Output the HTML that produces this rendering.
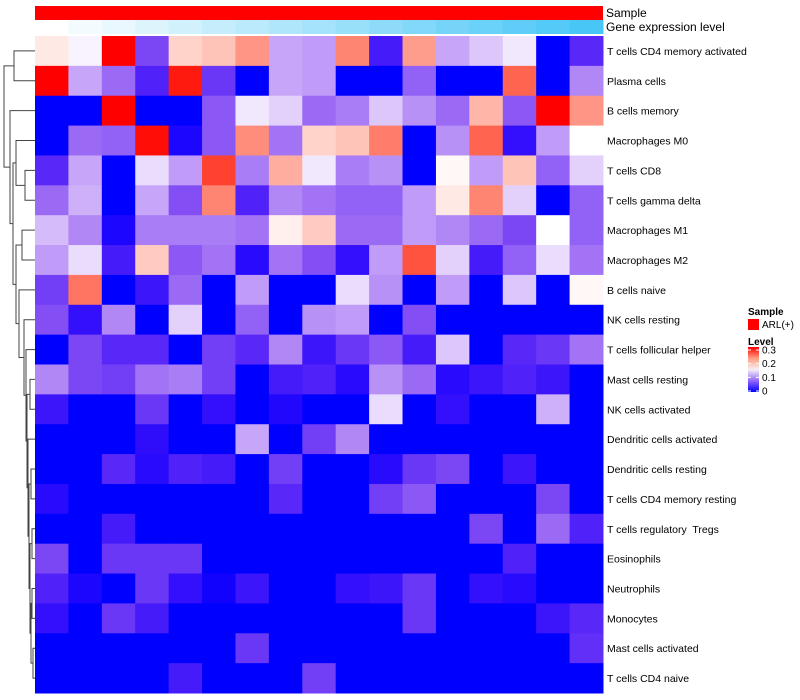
<!DOCTYPE html>
<html><head><meta charset="utf-8">
<style>
html,body{margin:0;padding:0;background:#fff;}
svg{display:block;font-family:"Liberation Sans",sans-serif;}
svg text{white-space:pre;}
</style></head>
<body>
<svg id="chart" width="800" height="700"></svg>
<script>
const rowLabels=["T cells CD4 memory activated","Plasma cells","B cells memory","Macrophages M0","T cells CD8","T cells gamma delta","Macrophages M1","Macrophages M2","B cells naive","NK cells resting","T cells follicular helper","Mast cells resting","NK cells activated","Dendritic cells activated","Dendritic cells resting","T cells CD4 memory resting","T cells regulatory  Tregs","Eosinophils","Neutrophils","Monocytes","Mast cells activated","T cells CD4 naive"];
const geneLevel=[0,1,2,3,4,5,6,7,8,9,10,11,12,13,14,15,16];
const r0=[0.165,0.145,0.3,0.06,0.18,0.19,0.22,0.11,0.105,0.23,0.03,0.215,0.11,0.125,0.14,0,0.04];
const r1=[0.3,0.11,0.08,0.035,0.29,0.05,0,0.11,0.105,0,0,0.075,0,0,0.25,0,0.095];
const r2=[0,0,0.3,0,0,0.07,0.14,0.13,0.08,0.09,0.125,0.1,0.08,0.2,0.07,0.3,0.22];
const r3=[0,0.08,0.075,0.295,0.01,0.07,0.225,0.085,0.18,0.19,0.235,0,0.1,0.25,0.02,0.105,0.15];
const r4=[0.04,0.11,0,0.135,0.105,0.27,0.09,0.205,0.14,0.09,0.1,0,0.155,0.105,0.19,0.075,0.13];
const r5=[0.08,0.115,0,0.11,0.065,0.23,0.035,0.095,0.085,0.075,0.075,0.105,0.165,0.23,0.13,0,0.075];
const r6=[0.12,0.095,0.01,0.09,0.09,0.09,0.085,0.16,0.185,0.08,0.08,0.105,0.095,0.08,0.06,0.15,0.075];
const r7=[0.105,0.135,0.03,0.185,0.07,0.085,0.015,0.085,0.065,0.02,0.105,0.26,0.13,0.03,0.075,0.135,0.085];
const r8=[0.055,0.24,0,0.025,0.08,0,0.105,0,0,0.135,0.1,0,0.105,0,0.125,0,0.155];
const r9=[0.065,0.02,0.095,0,0.13,0,0.075,0,0.1,0.105,0,0.065,0,0,0,0,0];
const r10=[0,0.06,0.04,0.04,0,0.055,0.04,0.095,0.025,0.05,0.07,0.03,0.125,0,0.04,0.05,0.085];
const r11=[0.095,0.06,0.055,0.085,0.09,0.055,0,0.03,0.035,0.015,0.1,0.08,0.015,0.025,0.035,0.025,0];
const r12=[0.025,0,0,0.05,0,0.02,0,0.012,0,0,0.135,0,0.02,0,0,0.115,0];
const r13=[0,0,0,0.018,0,0,0.11,0,0.055,0.095,0,0,0,0,0,0,0];
const r14=[0,0,0.04,0.015,0.035,0.03,0,0.055,0,0,0.015,0.05,0.06,0,0.025,0,0];
const r15=[0.015,0,0,0,0,0,0,0.04,0,0,0.055,0.07,0,0,0,0.06,0];
const r16=[0,0,0.03,0,0,0,0,0,0,0,0,0,0,0.06,0,0.08,0.035];
const r17=[0.06,0,0.05,0.05,0.05,0,0,0,0,0,0,0,0,0,0.035,0,0];
const r18=[0.035,0.01,0,0.05,0.02,0.005,0.025,0,0,0.02,0.025,0.05,0,0.02,0.015,0,0];
const r19=[0.02,0,0.05,0.03,0,0,0,0,0,0,0,0.05,0,0,0,0.025,0.04];
const r20=[0,0,0,0,0,0,0.05,0,0,0,0,0,0,0,0,0,0.045];
const r21=[0,0,0,0,0.03,0,0,0,0.055,0,0,0,0,0,0,0,0];
const values=[r0,r1,r2,r3,r4,r5,r6,r7,r8,r9,r10,r11,r12,r13,r14,r15,r16,r17,r18,r19,r20,r21];
const levelTicks=["0.3","0.2","0.1","0"];

const NS="http://www.w3.org/2000/svg";
const svg=document.getElementById('chart');
const X0=35,X1=603,Y0=36,Y1=693;
const nC=r0.length,nR=values.length;
const cw=(X1-X0)/nC,rh=(Y1-Y0)/nR;
const xPos=c=>X0+c*cw;
const yPos=r=>Y0+r*rh;
const vmax=0.3;
function colorFor(v){
  const t=Math.max(0,Math.min(1,v/vmax));
  let r,g,b;
  if(t<0.5){const u=t/0.5;r=Math.round(255*Math.pow(u,0.8));g=Math.round(255*Math.pow(u,1.4));b=Math.round(255-10*Math.sin(Math.PI*u));}
  else{const u=(t-0.5)/0.5;const w=1-u;r=255;g=Math.round(255*Math.pow(w,0.85));b=Math.round(255*Math.pow(w,1.05));}
  return `rgb(${r},${g},${b})`;
}
function geneColor(i){
  const u=i/(geneLevel.length-1);
  const r=Math.round(255+(72-255)*u),g=Math.round(255+(198-255)*u),b=Math.round(255+(246-255)*u);
  return `rgb(${r},${g},${b})`;
}
function mk(tag,attrs){const e=document.createElementNS(NS,tag);for(const k in attrs)e.setAttribute(k,attrs[k]);svg.appendChild(e);return e;}

const sb=mk('rect',{x:X0,y:6,width:X1-X0,height:14,fill:'#ff0000'});


geneLevel.forEach((g,i)=>{
  const e=mk('rect',{x:xPos(i),y:20,width:cw+0.5,height:14,fill:geneColor(g)});
  
  
});
let t=mk('text',{x:606,y:17,'font-size':12,fill:'#000'});t.textContent='Sample';


t=mk('text',{x:606,y:31,'font-size':12,fill:'#000'});t.textContent='Gene expression level';



values.forEach((row,r)=>{
  row.forEach((v,c)=>{
    const e=mk('rect',{x:xPos(c),y:yPos(r),width:cw+0.5,height:rh+0.5,fill:colorFor(v)});
    
    
  });
  const l=mk('text',{x:607,y:yPos(r)+rh/2+4,'font-size':10.5,fill:'#000'});
  l.textContent=rowLabels[r];
  
  
});

const yc=r=>yPos(r)+rh/2;
function node(leaf){return {y:yc(leaf),x:35};}
function join(a,b,x){
  const g=mk('path',{d:`M${a.x},${a.y}H${x}V${b.y}H${b.x}`,fill:'none',stroke:'#444','stroke-width':1});
  
  
  return {x:x,y:(a.y+b.y)/2};
}
const L=node;
let A=join(L(0),L(1),14);
let D=join(L(3),join(L(4),L(5),25),16);
let M12=join(L(6),L(7),22);
let low=join(L(20),L(21),33);
low=join(join(L(18),L(19),32),low,31);
low=join(join(L(16),L(17),32),low,30);
low=join(join(L(14),L(15),31),low,29);
low=join(L(13),low,28);
let mid=join(join(L(11),L(12),30),low,27);
mid=join(L(10),mid,26);
mid=join(L(9),mid,24);
let F=join(L(8),mid,19);
let E=join(M12,F,16);
let C=join(D,E,13);
let B=join(L(2),C,10);
join(A,B,4);

const lg=[['text',{x:748,y:315,'font-size':10,'font-weight':'bold'},'Sample','legend-sample-title'],
['rect',{x:748,y:319,width:11,height:11,fill:'#ff0000'},null,'legend-entry-arl-swatch'],
['text',{x:762,y:328,'font-size':10},'ARL(+)','legend-entry-arl-label'],
['text',{x:748,y:345,'font-size':10,'font-weight':'bold'},'Level','legend-level-title']];
lg.forEach(([tag,a,txt,nm])=>{const e=mk(tag,a);if(txt)e.textContent=txt;
  
  });
const defs=mk('defs',{});
defs.innerHTML='<linearGradient id="lv" x1="0" y1="1" x2="0" y2="0"><stop offset="0" stop-color="#0000ff"/><stop offset="0.25" stop-color="#9468f8"/><stop offset="0.5" stop-color="#f4f0f4"/><stop offset="0.75" stop-color="#ff9c80"/><stop offset="1" stop-color="#ff0000"/></linearGradient>';
const cb=mk('rect',{x:748,y:347,width:11,height:45,fill:'url(#lv)'});


levelTicks.forEach((s,i)=>{
  const y=350+i*(41/3);
  const e=mk('text',{x:762,y:y+3.5,'font-size':10});e.textContent=s;
  
  
  mk('line',{x1:748,x2:751,y1:y,y2:y,stroke:'#fff','stroke-width':1});
  mk('line',{x1:756,x2:759,y1:y,y2:y,stroke:'#fff','stroke-width':1});
});
</script>
</body></html>
